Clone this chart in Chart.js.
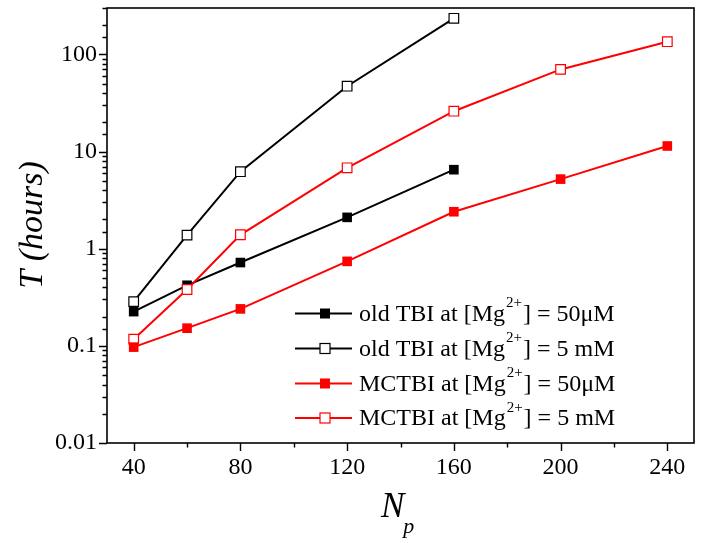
<!DOCTYPE html>
<html><head><meta charset="utf-8">
<script src="https://cdn.jsdelivr.net/npm/chart.js@4"></script>
<style>html,body{margin:0;padding:0;background:#fff}#wrap{width:704px;height:543px}</style>
</head><body><div id="wrap"><canvas id="c" width="704" height="543"></canvas></div>
<script>
// ---- data ----
const Np = [40, 60, 80, 120, 160, 200, 240];
const oldTBI_50uM = [0.225, 0.42, 0.72, 2.1, 6.5];
const oldTBI_5mM = [0.285, 1.38, 6.2, 47, 235];
const MCTBI_50uM = [0.097, 0.152, 0.24, 0.74, 2.4, 5.2, 11.4];
const MCTBI_5mM = [0.117, 0.38, 1.39, 6.8, 26, 70, 135];
const xMajorTicks = [40, 80, 120, 160, 200, 240];
const xMinorTicks = [60, 100, 140, 180, 220];
const yMajorTicks = [0.01, 0.1, 1, 10, 100];
const yTickLabels = ['0.01', '0.1', '1', '10', '100'];
const legendPre = ['old TBI at [Mg', 'old TBI at [Mg', 'MCTBI at [Mg', 'MCTBI at [Mg'];
const legendPost = ['] = 50\u03BCM', '] = 5 mM', '] = 50\u03BCM', '] = 5 mM'];

const SERIF = '"Liberation Serif", "Times New Roman", serif';
const RED = '#ff0000';

function pts(vals) { return vals.map((v, i) => ({ x: Np[i], y: v })); }

const series = [
  { data: oldTBI_50uM, color: '#000000', filled: true, order: 2 },
  { data: oldTBI_5mM, color: '#000000', filled: false, order: 2 },
  { data: MCTBI_50uM, color: RED, filled: true, order: 1 },
  { data: MCTBI_5mM, color: RED, filled: false, order: 1 }
];

const datasets = series.map((s, i) => ({
  label: legendPre[i] + '2+' + legendPost[i],
  data: pts(s.data),
  borderColor: s.color,
  borderWidth: 2,
  pointStyle: 'rect',
  pointRadius: 6.8,
  pointBorderWidth: s.filled ? 0 : 1.2,
  pointBorderColor: s.color,
  pointBackgroundColor: s.filled ? s.color : '#ffffff',
  tension: 0,
  order: s.order
}));

const decorPlugin = {
  id: 'decor',
  afterDraw(chart) {
    const ctx = chart.ctx;
    const ca = chart.chartArea;
    const xs = chart.scales.x, ys = chart.scales.y;
    ctx.save();
    ctx.strokeStyle = '#000';
    ctx.lineWidth = 1.6;
    ctx.strokeRect(ca.left, ca.top, ca.right - ca.left, ca.bottom - ca.top);
    // x ticks
    ctx.lineWidth = 1.4;
    ctx.beginPath();
    xMajorTicks.forEach(v => { const p = Math.round(xs.getPixelForValue(v)) + 0.5; ctx.moveTo(p, ca.bottom); ctx.lineTo(p, ca.bottom + 8); });
    xMinorTicks.forEach(v => { const p = Math.round(xs.getPixelForValue(v)) + 0.5; ctx.moveTo(p, ca.bottom); ctx.lineTo(p, ca.bottom + 4.5); });
    // y ticks
    ys.ticks.forEach(t => {
      const v = t.value;
      if (v < ys.min - 1e-12 || v > ys.max + 1e-9) return;
      const p = Math.round(ys.getPixelForValue(v)) + 0.5;
      const lg = Math.log10(v);
      const major = Math.abs(lg - Math.round(lg)) < 1e-6;
      ctx.moveTo(ca.left, p); ctx.lineTo(ca.left - (major ? 8 : 4.5), p);
    });
    ctx.stroke();

    // axis titles
    ctx.fillStyle = '#000';
    ctx.save();
    ctx.translate(33, 225);
    ctx.rotate(-Math.PI / 2);
    ctx.font = 'italic 34px ' + SERIF;
    ctx.textAlign = 'center';
    ctx.textBaseline = 'middle';
    ctx.fillText('T (hours)', 0, 0);
    ctx.restore();

    ctx.textAlign = 'left';
    ctx.textBaseline = 'alphabetic';
    ctx.font = 'italic 35px ' + SERIF;
    ctx.fillText('N', 381, 517);
    const nW = ctx.measureText('N').width;
    ctx.font = 'italic 22px ' + SERIF;
    ctx.fillText('p', 381 + nW - 1, 533);

    // legend
    const rows = [313.5, 348.5, 383.5, 418];
    series.forEach((s, i) => {
      const y = rows[i];
      ctx.strokeStyle = s.color;
      ctx.lineWidth = 2;
      ctx.beginPath();
      ctx.moveTo(295, y); ctx.lineTo(352, y);
      ctx.stroke();
      const sz = 10;
      ctx.fillStyle = s.filled ? s.color : '#fff';
      ctx.fillRect(325 - sz / 2, y - sz / 2, sz, sz);
      if (!s.filled) { ctx.lineWidth = 1.2; ctx.strokeRect(325 - sz / 2, y - sz / 2, sz, sz); }
      ctx.fillStyle = '#000';
      ctx.font = '24px ' + SERIF;
      ctx.textBaseline = 'middle';
      let x = 359;
      ctx.fillText(legendPre[i], x, y + 1);
      x += ctx.measureText(legendPre[i]).width + 1;
      ctx.font = '15px ' + SERIF;
      ctx.fillText('2+', x, y - 10);
      x += ctx.measureText('2+').width + 1;
      ctx.font = '24px ' + SERIF;
      ctx.fillText(legendPost[i], x, y + 1);
    });
    ctx.restore();
  }
};

new Chart(document.getElementById('c'), {
  type: 'line',
  data: { datasets },
  options: {
    responsive: false,
    animation: false,
    devicePixelRatio: 1,
    layout: { padding: { top: 8, right: 10, left: 0, bottom: 0 } },
    plugins: { legend: { display: false }, tooltip: { enabled: false } },
    scales: {
      x: {
        type: 'linear', min: 30, max: 250,
        grid: { display: false, drawTicks: true, tickLength: 8 },
        border: { display: false },
        afterBuildTicks: s => { s.ticks = xMajorTicks.map(v => ({ value: v })); },
        afterFit: s => { s.height = 100; s.paddingLeft = 0; s.paddingRight = 0; },
        ticks: {
          autoSkip: false, maxRotation: 0, padding: 2, color: '#000',
          font: { family: SERIF, size: 24 },
          callback: v => String(v)
        }
      },
      y: {
        type: 'logarithmic', min: 0.01, max: 300,
        grid: { display: false, drawTicks: true, tickLength: 8 },
        border: { display: false },
        afterFit: s => { s.width = 107; s.paddingTop = 0; s.paddingBottom = 0; },
        ticks: {
          autoSkip: false, padding: 2, color: '#000',
          font: { family: SERIF, size: 24 },
          callback: v => { const k = yMajorTicks.findIndex(m => Math.abs(m - v) / m < 1e-6); return k >= 0 ? yTickLabels[k] : ''; }
        }
      }
    }
  },
  plugins: [decorPlugin]
});
</script></body></html>
